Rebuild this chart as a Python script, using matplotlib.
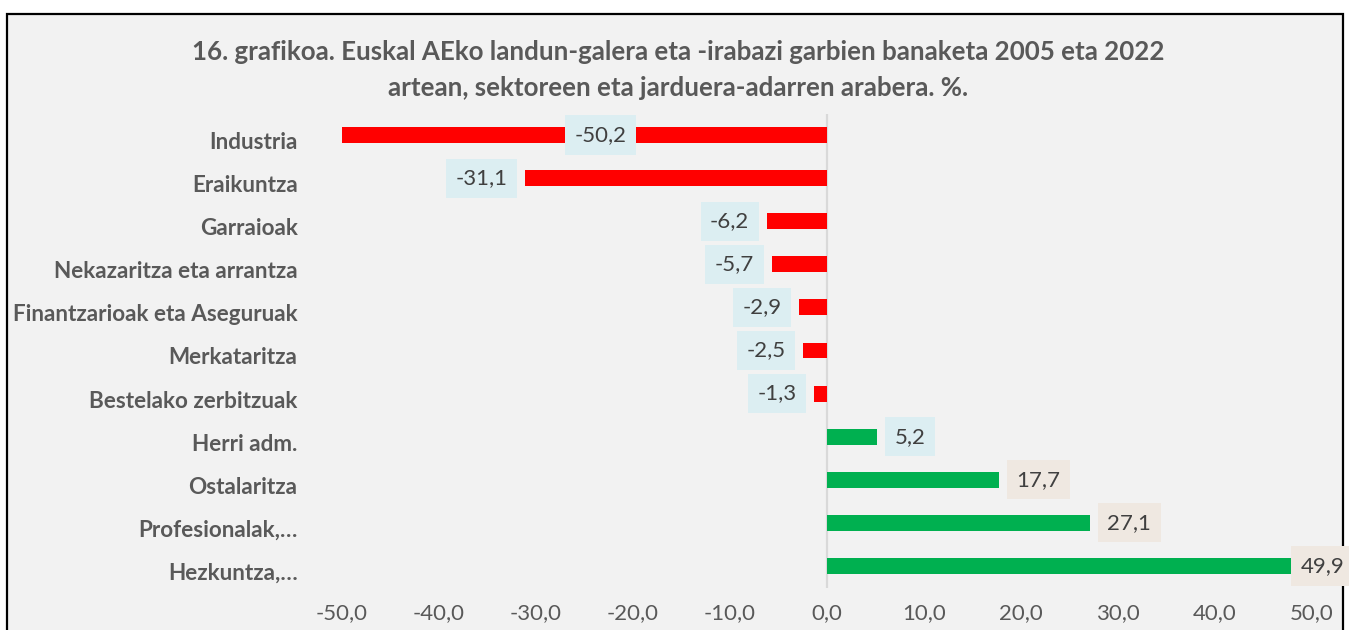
import matplotlib
matplotlib.use("Agg")
import matplotlib.pyplot as plt
import matplotlib.transforms as mtransforms
from matplotlib.patches import Rectangle
from matplotlib.ticker import FuncFormatter

# Datuak
sektoreak = ["Industria", "Eraikuntza", "Garraioak", "Nekazaritza eta arrantza",
             "Finantzarioak eta Aseguruak", "Merkataritza", "Bestelako zerbitzuak",
             "Herri adm.", "Ostalaritza", "Profesionalak,…", "Hezkuntza,…"]
balioak = [-50.2, -31.1, -6.2, -5.7, -2.9, -2.5, -1.3, 5.2, 17.7, 27.1, 49.9]
x_ticks = [-50, -40, -30, -20, -10, 0, 10, 20, 30, 40, 50]

titulua = ("16. grafikoa. Euskal AEko landun-galera eta -irabazi garbien banaketa 2005 eta 2022\n"
           "artean, sektoreen eta jarduera-adarren arabera. %.")

# Estiloa
GORRIA = "#FF0000"
BERDEA = "#00B050"
URDIN_ARGIA = "#DCEEF2"
BEIXA = "#EFE8E1"
GRISA = "#595959"
TESTUA = "#404040"

plt.rcParams["font.family"] = ["Lato", "DejaVu Sans"]

def koma(v, pos=None):
    return f"{v:.1f}".replace(".", ",")

W, H = 1349, 630
fig = plt.figure(figsize=(W / 100, H / 100), dpi=100)
fig.patch.set_facecolor("white")

# Markoa
fig.add_artist(Rectangle((7 / W, -0.05), (1343 - 7) / W, 1 - 14 / H + 0.05,
                         transform=fig.transFigure, facecolor="#F2F2F2",
                         edgecolor="black", linewidth=1.6, zorder=0))

ax = fig.add_axes([342 / W, 1 - 587.5 / H, 970 / W, 474 / H])
ax.set_facecolor("none")

y = list(range(len(sektoreak)))
koloreak = [GORRIA if v < 0 else BERDEA for v in balioak]
ax.barh(y, balioak, height=0.37, color=koloreak, zorder=2)
ax.axvline(0, color="#D9D9D9", linewidth=1.6, zorder=1)

ax.set_xlim(-50, 50)
ax.set_ylim(len(sektoreak) - 0.5, -0.5)
ax.set_xticks(x_ticks)
ax.xaxis.set_major_formatter(FuncFormatter(koma))
ax.set_yticks(y)
ax.set_yticklabels(sektoreak, fontweight="bold", fontsize=16.2, color=GRISA)
ax.tick_params(axis="x", length=0, labelsize=16, labelcolor=GRISA, pad=11)
ax.tick_params(axis="y", length=0, pad=32)
beherantz = mtransforms.ScaledTranslation(0, -0.055, fig.dpi_scale_trans)
for lbl in ax.get_yticklabels():
    lbl.set_transform(lbl.get_transform() + beherantz)
for s in ax.spines.values():
    s.set_visible(False)

# Etiketak
for i, v in enumerate(balioak):
    fondoa = URDIN_ARGIA if v < 10 else BEIXA
    kutxa = dict(boxstyle="square,pad=0.43", facecolor=fondoa, edgecolor="none")
    if i == 0:
        # barraren erdian
        ax.text(v * 0.465, i, koma(v), ha="center", va="center", fontsize=16,
                color=TESTUA, bbox=kutxa, zorder=3)
    elif i == len(balioak) - 1:
        ax.annotate(koma(v), (v, i), xytext=(-7.5, 0), textcoords="offset points",
                    ha="left", va="center", fontsize=16, color=TESTUA, bbox=kutxa,
                    zorder=3, annotation_clip=False)
    else:
        dx = 12.6 if v > 0 else -12.6
        ax.annotate(koma(v), (v, i), xytext=(dx, 0), textcoords="offset points",
                    ha="left" if v > 0 else "right", va="center", fontsize=16,
                    color=TESTUA, bbox=kutxa, zorder=3)

fig.text(0.503, 1 - 70 / H, titulua, ha="center", va="center", fontsize=18.6,
         fontweight="bold", color=GRISA, linespacing=1.6)

fig.savefig("out.png", dpi=100, facecolor=fig.get_facecolor())
